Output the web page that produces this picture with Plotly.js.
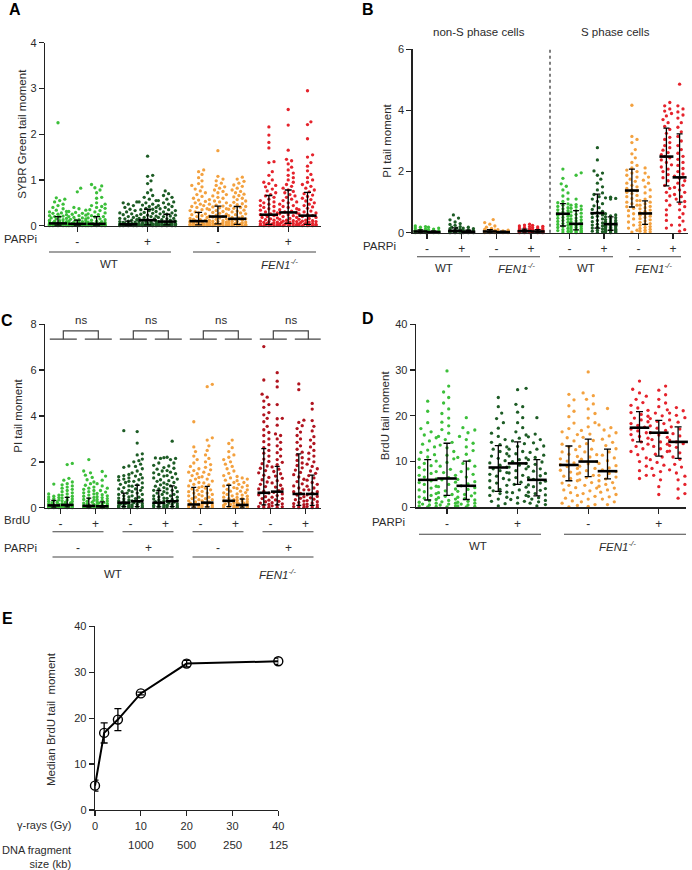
<!DOCTYPE html>
<html><head><meta charset="utf-8">
<script src="https://cdn.plot.ly/plotly-3.0.1.min.js"></script>
<style>html,body{margin:0;padding:0;background:#fff}#chart{width:692px;height:870px}</style>
</head><body><div id="chart"></div>
<script>
// ---------------- Panel A : SYBR Green tail moment ----------------
const A_WT_ctrl_1=[2.25,0.61,0.58,0.55,0.52,0.47,0.44,0.4,0.37,0.34,0.31,0.3,0.28,0.27,0.25,0.24,0.22,0.21,0.2,0.19,0.17,0.16,0.15,0.13,0.12,0.11,0.1,0.09,0.08,0.07,0.06,0.06,0.05,0.05,0.05,0.04,0.04,0.04,0.03,0.03,0.03,0.03,0.02,0.02,0.02,0.02,0.01,0.01,0.01,0.01,0.01,0,0,0,0,0];
const A_WT_ctrl_2=[0.82,0.74,0.4,0.37,0.34,0.31,0.29,0.27,0.25,0.23,0.22,0.2,0.18,0.17,0.15,0.14,0.13,0.12,0.11,0.1,0.09,0.08,0.07,0.06,0.05,0.05,0.04,0.04,0.04,0.03,0.03,0.03,0.03,0.02,0.02,0.02,0.02,0.01,0.01,0.01,0.01,0.01,0,0,0,0,0,0];
const A_WT_ctrl_3=[0.9,0.87,0.83,0.78,0.72,0.62,0.6,0.5,0.47,0.44,0.42,0.4,0.38,0.35,0.33,0.3,0.28,0.26,0.24,0.22,0.2,0.19,0.17,0.15,0.13,0.12,0.1,0.09,0.08,0.07,0.06,0.05,0.05,0.04,0.04,0.04,0.03,0.03,0.03,0.02,0.02,0.02,0.02,0.01,0.01,0.01,0.01,0,0,0,0,0];
const A_WT_parp_1=[0.52,0.5,0.47,0.44,0.4,0.36,0.33,0.3,0.28,0.26,0.24,0.22,0.2,0.18,0.16,0.15,0.13,0.12,0.1,0.09,0.08,0.07,0.06,0.05,0.05,0.04,0.04,0.03,0.03,0.03,0.02,0.02,0.02,0.02,0.01,0.01,0.01,0.01,0,0,0,0,0];
const A_WT_parp_2=[1.52,1.1,1.08,0.98,0.92,0.78,0.72,0.66,0.62,0.58,0.55,0.52,0.5,0.47,0.45,0.42,0.4,0.38,0.36,0.35,0.33,0.31,0.29,0.27,0.25,0.23,0.21,0.2,0.18,0.16,0.15,0.13,0.12,0.11,0.1,0.09,0.08,0.07,0.06,0.05,0.05,0.04,0.04,0.03,0.03,0.03,0.02,0.02,0.02,0.01,0.01,0.01,0,0,0,0];
const A_WT_parp_3=[0.76,0.7,0.66,0.62,0.58,0.55,0.52,0.5,0.47,0.44,0.42,0.4,0.37,0.35,0.33,0.3,0.28,0.26,0.25,0.23,0.21,0.2,0.18,0.16,0.15,0.13,0.12,0.1,0.09,0.08,0.07,0.06,0.05,0.05,0.04,0.04,0.03,0.03,0.03,0.02,0.02,0.02,0.01,0.01,0.01,0,0,0,0];
const A_FEN_ctrl_1=[1.22,1.18,1.12,1.05,0.98,0.92,0.88,0.85,0.8,0.76,0.72,0.68,0.64,0.6,0.56,0.53,0.5,0.47,0.44,0.42,0.4,0.37,0.35,0.33,0.3,0.28,0.26,0.24,0.22,0.2,0.18,0.16,0.14,0.13,0.12,0.11,0.1,0.09,0.08,0.08,0.07,0.06,0.06,0.05,0.05,0.04,0.04,0.03,0.03,0.02,0.02,0.02,0.01,0.01,0.01,0,0,0,0,0];
const A_FEN_ctrl_2=[1.64,1.08,1.02,0.98,0.93,0.88,0.85,0.82,0.78,0.75,0.72,0.68,0.65,0.62,0.6,0.57,0.54,0.52,0.5,0.47,0.45,0.43,0.41,0.39,0.37,0.35,0.33,0.31,0.29,0.27,0.25,0.23,0.21,0.2,0.19,0.17,0.15,0.14,0.12,0.11,0.1,0.09,0.08,0.07,0.06,0.05,0.05,0.04,0.03,0.03,0.02,0.02,0.01,0.01,0,0,0];
const A_FEN_ctrl_3=[1.06,1.02,0.97,0.93,0.89,0.86,0.82,0.78,0.75,0.72,0.69,0.66,0.63,0.6,0.57,0.54,0.51,0.48,0.46,0.44,0.42,0.4,0.38,0.36,0.34,0.32,0.3,0.28,0.26,0.24,0.22,0.2,0.18,0.17,0.15,0.14,0.13,0.12,0.1,0.09,0.08,0.07,0.06,0.05,0.05,0.04,0.03,0.03,0.02,0.02,0.01,0.01,0,0,0];
const A_FEN_parp_1=[2.16,1.98,1.82,1.7,1.4,1.38,1.18,1.1,1.0,0.95,0.92,0.88,0.85,0.8,0.76,0.72,0.68,0.65,0.62,0.58,0.55,0.52,0.5,0.47,0.44,0.42,0.4,0.37,0.34,0.32,0.3,0.28,0.26,0.24,0.22,0.2,0.18,0.17,0.15,0.13,0.12,0.1,0.09,0.08,0.07,0.06,0.05,0.04,0.04,0.03,0.02,0.02,0.01,0.01,0,0,0];
const A_FEN_parp_2=[2.54,2.2,1.65,1.45,1.42,1.35,1.28,1.22,1.15,1.1,1.05,1.0,0.95,0.9,0.86,0.82,0.78,0.75,0.72,0.68,0.65,0.62,0.58,0.55,0.52,0.5,0.47,0.44,0.42,0.4,0.37,0.35,0.32,0.3,0.28,0.26,0.24,0.22,0.2,0.18,0.16,0.14,0.12,0.11,0.1,0.09,0.08,0.07,0.06,0.05,0.04,0.03,0.03,0.02,0.01,0.01,0,0,0];
const A_FEN_parp_3=[2.95,2.27,2.21,1.9,1.55,1.5,1.38,1.3,1.2,1.12,1.05,1.0,0.95,0.9,0.86,0.82,0.78,0.74,0.7,0.67,0.64,0.6,0.57,0.54,0.5,0.47,0.44,0.41,0.38,0.35,0.32,0.3,0.28,0.26,0.24,0.22,0.2,0.18,0.16,0.14,0.12,0.11,0.1,0.09,0.08,0.07,0.06,0.05,0.04,0.03,0.03,0.02,0.01,0.01,0,0,0];
const A_median=[0.05,0.04,0.04,0.03,0.12,0.09,0.1,0.2,0.15,0.24,0.29,0.22];
const A_q1=[0.01,0.01,0.01,0.01,0.02,0.02,0.02,0.04,0.03,0.03,0.05,0.03];
const A_q3=[0.2,0.12,0.2,0.1,0.36,0.25,0.29,0.43,0.42,0.66,0.78,0.73];
const A_ticks=['-','+','-','+'];

// ---------------- Panel B : PI tail moment (non-S / S phase) ----------------
const B_nS_WT_ctrl_1=[0.22,0.2,0.18,0.15,0.12,0.1,0.08,0.07,0.05,0.04,0.03,0.02,0.02,0.01,0.01,0,0,0];
const B_nS_WT_ctrl_2=[0.18,0.15,0.12,0.1,0.07,0.05,0.03,0.02,0.01,0.01,0,0];
const B_nS_WT_parp_1=[0.58,0.48,0.42,0.35,0.3,0.27,0.24,0.2,0.18,0.15,0.13,0.11,0.09,0.07,0.06,0.05,0.04,0.03,0.02,0.02,0.01,0.01,0,0,0];
const B_nS_WT_parp_2=[0.18,0.15,0.13,0.1,0.08,0.06,0.05,0.04,0.03,0.02,0.02,0.01,0.01,0,0,0];
const B_nS_FEN_ctrl_1=[0.43,0.33,0.28,0.22,0.18,0.14,0.11,0.08,0.06,0.05,0.04,0.03,0.02,0.01,0.01,0,0,0];
const B_nS_FEN_ctrl_2=[0.1,0.08,0.06,0.05,0.04,0.03,0.02,0.02,0.01,0.01,0,0];
const B_nS_FEN_parp_1=[0.28,0.25,0.22,0.2,0.17,0.15,0.13,0.11,0.09,0.08,0.07,0.06,0.05,0.04,0.04,0.03,0.02,0.02,0.01,0.01,0,0,0];
const B_nS_FEN_parp_2=[0.24,0.21,0.19,0.17,0.15,0.13,0.11,0.1,0.08,0.07,0.06,0.05,0.04,0.03,0.03,0.02,0.02,0.01,0.01,0,0];
const B_S_WT_ctrl_1=[2.08,1.78,1.6,1.52,1.4,1.3,1.2,1.1,1.02,0.98,0.94,0.9,0.86,0.82,0.78,0.75,0.72,0.68,0.65,0.62,0.6,0.57,0.54,0.5,0.47,0.44,0.4,0.37,0.34,0.3,0.27,0.24,0.2,0.17,0.14,0.1,0.07,0.04,0.02];
const B_S_WT_ctrl_2=[1.96,1.88,1.1,0.92,0.9,0.87,0.84,0.8,0.76,0.72,0.68,0.64,0.6,0.56,0.52,0.48,0.45,0.42,0.39,0.36,0.33,0.3,0.28,0.26,0.24,0.22,0.2,0.18,0.16,0.14,0.12,0.1,0.08,0.07,0.05,0.04,0.03,0.02,0.01,0];
const B_S_WT_parp_1=[2.78,2.38,2.02,1.95,1.88,1.75,1.62,1.5,1.4,1.3,1.25,1.18,1.1,1.02,0.95,0.88,0.82,0.76,0.7,0.66,0.62,0.58,0.54,0.5,0.45,0.4,0.36,0.32,0.28,0.25,0.22,0.18,0.15,0.12,0.08,0.05,0.03,0.01];
const B_S_WT_parp_2=[1.16,1.14,1.12,1.1,0.62,0.58,0.55,0.52,0.49,0.46,0.43,0.4,0.38,0.36,0.34,0.32,0.3,0.28,0.27,0.25,0.24,0.22,0.21,0.2,0.18,0.17,0.15,0.14,0.12,0.11,0.1,0.08,0.07,0.06,0.05,0.04,0.03,0.02,0.01,0];
const B_S_FEN_ctrl_1=[4.17,3.15,3.05,2.95,2.72,2.58,2.45,2.3,2.2,2.12,2.05,2.0,1.95,1.88,1.82,1.75,1.68,1.62,1.55,1.5,1.45,1.4,1.37,1.32,1.28,1.22,1.18,1.12,1.05,1.0,0.95,0.9,0.85,0.8,0.72,0.62,0.55,0.45,0.35,0.25,0.15,0.08,0.02];
const B_S_FEN_ctrl_2=[2.12,1.95,1.82,1.72,1.62,1.5,1.4,1.3,1.18,1.1,1.05,1.0,0.95,0.9,0.86,0.82,0.78,0.74,0.7,0.66,0.63,0.6,0.57,0.54,0.5,0.46,0.42,0.38,0.34,0.3,0.27,0.24,0.2,0.17,0.14,0.11,0.08,0.05,0.03,0.01];
const B_S_FEN_parp_1=[4.26,4.15,4.05,3.98,3.9,3.82,3.7,3.6,3.48,3.38,3.25,3.12,3.05,2.95,2.85,2.78,2.7,2.62,2.55,2.5,2.45,2.38,2.3,2.22,2.15,2.08,2.0,1.9,1.8,1.7,1.55,1.45,1.32,1.2,1.05,0.9,0.75,0.58,0.4,0.25,0.15];
const B_S_FEN_parp_2=[4.86,4.15,4.05,3.95,3.85,3.75,3.6,3.45,3.3,3.15,3.0,2.85,2.72,2.6,2.5,2.4,2.3,2.2,2.1,2.0,1.92,1.85,1.78,1.7,1.62,1.55,1.48,1.4,1.32,1.25,1.18,1.1,1.02,0.95,0.85,0.75,0.62,0.5,0.38,0.25,0.1,0.05];
const B_median=[0.04,0.02,0.06,0.03,0.04,0.02,0.05,0.04,0.62,0.29,0.64,0.28,1.38,0.63,2.49,1.81];
const B_q1=[0.01,0,0.02,0.01,0.01,0,0.02,0.01,0.22,0.09,0.15,0.08,0.84,0.27,1.53,1.0];
const B_q3=[0.09,0.06,0.16,0.08,0.1,0.05,0.12,0.1,0.95,0.72,1.26,0.52,2.08,1.04,3.42,3.23];
const B_ticks=['-','+','-','+','-','+','-','+'];

// ---------------- Panel C : PI tail moment (BrdU / PARPi) ----------------
const C_WT_ctrl_noB_1=[1.03,0.6,0.55,0.5,0.47,0.44,0.4,0.37,0.34,0.31,0.28,0.25,0.22,0.2,0.18,0.16,0.14,0.12,0.1,0.09,0.08,0.07,0.06,0.05,0.04,0.03,0.03,0.02,0.02,0.01,0.01,0,0,0];
const C_WT_ctrl_noB_2=[1.93,1.88,1.28,1.2,1.12,1.05,1.0,0.95,0.9,0.85,0.8,0.75,0.7,0.65,0.6,0.55,0.5,0.46,0.42,0.38,0.34,0.3,0.27,0.24,0.21,0.18,0.15,0.13,0.11,0.09,0.07,0.06,0.05,0.04,0.03,0.02,0.01,0,0];
const C_WT_ctrl_B_1=[2.1,1.6,1.52,1.42,1.32,1.22,1.12,1.05,0.98,0.9,0.85,0.8,0.75,0.7,0.65,0.6,0.55,0.5,0.45,0.4,0.36,0.32,0.28,0.24,0.2,0.17,0.14,0.12,0.1,0.08,0.06,0.05,0.04,0.03,0.02,0.01,0,0];
const C_WT_ctrl_B_2=[1.58,1.38,1.2,1.05,0.95,0.85,0.75,0.68,0.62,0.57,0.52,0.48,0.44,0.4,0.36,0.32,0.29,0.26,0.23,0.2,0.18,0.16,0.14,0.12,0.1,0.08,0.07,0.06,0.05,0.04,0.03,0.02,0.01,0,0];
const C_WT_parp_noB_1=[3.36,1.82,1.76,1.45,1.4,1.35,1.3,1.25,1.2,1.15,1.1,1.02,0.95,0.88,0.82,0.76,0.7,0.64,0.58,0.52,0.47,0.42,0.38,0.34,0.3,0.27,0.24,0.21,0.18,0.16,0.14,0.12,0.1,0.08,0.06,0.05,0.04,0.03,0.02,0.01,0];
const C_WT_parp_noB_2=[3.32,2.82,2.35,2.3,2.12,2.05,2.0,1.9,1.8,1.7,1.6,1.52,1.45,1.38,1.3,1.22,1.15,1.08,1.0,0.94,0.88,0.82,0.76,0.7,0.64,0.58,0.52,0.46,0.4,0.35,0.3,0.26,0.22,0.18,0.15,0.12,0.09,0.06,0.04,0.02,0];
const C_WT_parp_B_1=[2.18,2.17,2.15,1.95,1.85,1.75,1.68,1.6,1.52,1.45,1.38,1.3,1.22,1.15,1.08,1.0,0.94,0.88,0.82,0.76,0.7,0.64,0.58,0.52,0.47,0.42,0.38,0.34,0.3,0.26,0.22,0.19,0.16,0.13,0.1,0.08,0.06,0.04,0.02,0];
const C_WT_parp_B_2=[2.9,2.2,2.15,2.1,1.95,1.82,1.72,1.62,1.55,1.48,1.4,1.32,1.25,1.18,1.1,1.02,0.95,0.88,0.82,0.76,0.7,0.64,0.58,0.52,0.46,0.41,0.36,0.32,0.28,0.24,0.2,0.17,0.14,0.11,0.08,0.06,0.04,0.02,0];
const C_FEN_ctrl_noB_1=[3.75,2.65,2.45,2.25,2.1,1.95,1.8,1.7,1.62,1.55,1.48,1.4,1.32,1.25,1.18,1.1,1.02,0.95,0.88,0.82,0.76,0.7,0.64,0.58,0.52,0.46,0.4,0.35,0.3,0.25,0.2,0.16,0.13,0.1,0.08,0.06,0.04,0.02,0];
const C_FEN_ctrl_noB_2=[5.38,5.28,3.05,2.95,2.7,2.5,2.3,2.15,2.0,1.88,1.76,1.65,1.55,1.45,1.35,1.25,1.16,1.08,1.0,0.92,0.85,0.78,0.71,0.64,0.58,0.52,0.46,0.4,0.35,0.3,0.25,0.21,0.18,0.15,0.12,0.09,0.06,0.04,0.02,0];
const C_FEN_ctrl_B_1=[2.95,2.8,2.62,2.45,2.3,2.2,2.1,2.0,1.9,1.8,1.7,1.6,1.5,1.4,1.3,1.2,1.1,1.02,0.95,0.88,0.8,0.72,0.65,0.58,0.52,0.46,0.4,0.35,0.3,0.25,0.21,0.17,0.14,0.11,0.08,0.05,0.03,0.01,0];
const C_FEN_ctrl_B_2=[1.36,1.3,1.25,1.18,1.1,1.02,0.96,0.9,0.84,0.78,0.72,0.66,0.6,0.55,0.5,0.45,0.41,0.37,0.33,0.29,0.26,0.23,0.2,0.17,0.15,0.13,0.11,0.09,0.07,0.05,0.04,0.03,0.02,0.01,0];
const C_FEN_parp_noB_1=[7.03,5.57,4.95,4.82,4.65,4.5,4.38,4.15,4.05,3.9,3.75,3.55,3.4,3.28,3.15,3.0,2.88,2.75,2.62,2.5,2.38,2.25,2.12,2.02,1.92,1.82,1.72,1.62,1.52,1.42,1.32,1.22,1.12,1.02,0.92,0.82,0.72,0.64,0.56,0.48,0.4,0.33,0.26,0.2,0.14,0.09,0.05,0.02,0];
const C_FEN_parp_noB_2=[5.89,5.52,5.27,4.5,3.9,3.88,3.6,3.22,3.15,3.0,2.85,2.7,2.55,2.4,2.25,2.1,1.98,1.88,1.78,1.68,1.58,1.48,1.38,1.28,1.18,1.08,0.98,0.9,0.82,0.74,0.67,0.6,0.53,0.46,0.4,0.34,0.28,0.22,0.17,0.12,0.08,0.04,0.01];
const C_FEN_parp_B_1=[5.4,5.15,3.82,3.72,3.58,3.45,3.3,3.15,3.0,2.85,2.7,2.55,2.42,2.3,2.18,2.06,1.95,1.84,1.74,1.64,1.54,1.44,1.34,1.24,1.14,1.04,0.95,0.86,0.78,0.7,0.62,0.55,0.48,0.41,0.35,0.29,0.23,0.18,0.13,0.09,0.05,0.02,0];
const C_FEN_parp_B_2=[4.55,4.3,3.8,3.55,3.35,3.1,2.95,2.8,2.65,2.5,2.38,2.25,2.12,2.0,1.9,1.8,1.7,1.6,1.5,1.4,1.3,1.2,1.1,1.02,0.94,0.86,0.78,0.7,0.63,0.56,0.49,0.43,0.37,0.31,0.26,0.21,0.16,0.12,0.08,0.05,0.02,0];
const C_median=[0.1,0.12,0.08,0.06,0.22,0.28,0.22,0.28,0.14,0.22,0.3,0.12,0.65,0.7,0.6,0.6];
const C_q1=[0.02,0.03,0.02,0.01,0.05,0.05,0.04,0.05,0.02,0.03,0.05,0.02,0.12,0.12,0.1,0.1];
const C_q3=[0.32,0.45,0.42,0.25,0.64,0.98,0.75,0.95,0.89,0.93,0.98,0.38,2.58,1.8,2.35,1.42];
const C_brduTicks=['-','+','-','+','-','+','-','+'];
const C_parpLabels=['-','+','-','+'];
const C_sigLabels=['ns','ns','ns','ns'];

// ---------------- Panel D : BrdU tail moment ----------------
const D_WT_ctrl_1=[23.2,21.0,18.5,17.2,16.5,15.8,15.2,14.5,13.8,13.2,12.5,12.0,11.5,11.0,10.5,10.1,9.6,9.1,8.7,8.2,7.8,7.4,7.0,6.6,6.2,5.8,5.4,5.0,4.6,4.2,3.8,3.4,3.0,2.6,2.3,2.0,1.7,1.4,1.1,0.9,0.7,0.5,0.3,0.2,0.1];
const D_WT_ctrl_2=[29.8,26.5,25.2,24.0,22.8,21.5,20.5,19.5,18.6,17.8,17.0,16.2,15.5,14.8,14.2,13.6,13.0,12.2,11.4,10.6,9.8,9.0,8.3,7.6,7.0,6.5,6.0,5.5,5.0,4.5,4.0,3.6,3.2,2.8,2.4,2.1,1.8,1.5,1.2,0.9,0.7,0.5,0.3,0.1];
const D_WT_ctrl_3=[19.6,17.4,16.9,16.3,15.5,14.8,14.0,13.2,12.4,11.6,10.9,10.2,9.6,9.0,8.4,7.8,7.2,6.6,6.1,5.6,5.1,4.7,4.3,3.9,3.5,3.1,2.8,2.5,2.2,1.9,1.6,1.3,1.1,0.9,0.7,0.5,0.3,0.2,0.1];
const D_WT_parp_1=[24.0,22.0,20.6,19.4,18.5,17.3,16.2,15.5,14.8,14.2,13.7,13.2,12.7,12.2,11.7,11.2,10.7,10.2,9.7,9.2,8.8,8.4,8.0,7.6,7.2,6.8,6.3,5.8,5.3,4.8,4.3,3.9,3.6,3.3,3.0,2.6,2.2,1.8,1.3,0.8,0.3];
const D_WT_parp_2=[26.0,25.7,22.5,22.0,20.8,19.6,18.5,17.4,16.5,15.8,15.1,14.5,13.9,13.3,12.7,12.2,11.7,11.2,10.8,10.4,10.0,9.6,9.2,8.8,8.4,8.0,7.5,7.0,6.5,6.0,5.5,5.0,4.4,3.8,3.2,2.6,2.1,1.7,1.3,0.9];
const D_WT_parp_3=[19.6,16.0,15.4,14.8,14.1,13.4,12.7,12.0,11.4,10.9,10.4,9.9,9.4,8.9,8.4,7.9,7.4,6.9,6.5,6.1,5.7,5.3,4.9,4.5,4.1,3.7,3.3,3.0,2.7,2.4,2.1,1.8,1.5,1.2,0.9,0.6,0.3];
const D_FEN_ctrl_1=[24.7,23.5,22.2,21.0,19.8,18.4,17.2,16.5,15.9,15.2,14.5,13.8,13.2,12.6,12.1,11.6,11.1,10.6,10.1,9.7,9.3,8.9,8.5,8.1,7.7,7.3,6.8,6.3,5.8,5.3,4.8,4.3,3.8,3.2,2.6,2.0,1.4,0.9,0.4,0.1];
const D_FEN_ctrl_2=[29.6,25.0,24.4,23.6,22.6,21.5,20.5,19.5,18.5,17.6,16.8,16.0,15.3,14.6,13.9,13.3,12.7,12.1,11.5,11.0,10.5,10.0,9.5,9.0,8.5,8.0,7.5,7.0,6.5,6.0,5.4,4.8,4.2,3.6,3.0,2.4,1.8,1.2,0.6,0.2];
const D_FEN_ctrl_3=[21.6,18.0,17.4,16.9,16.3,15.6,14.9,14.2,13.5,12.8,12.1,11.4,10.8,10.2,9.6,9.1,8.6,8.2,7.8,7.4,7.0,6.6,6.2,5.8,5.4,5.0,4.6,4.2,3.8,3.3,2.8,2.3,1.8,1.2,0.6];
const D_FEN_parp_1=[27.6,25.8,25.0,24.3,23.6,22.9,22.3,21.7,21.2,20.7,20.3,19.9,19.5,19.1,18.7,18.3,17.9,17.5,17.1,16.7,16.3,15.9,15.5,15.1,14.7,14.3,13.8,13.3,12.8,12.2,11.5,10.8,10.0,9.0,8.0,7.0,6.3];
const D_FEN_parp_2=[26.5,25.6,24.6,23.6,22.8,22.0,21.3,20.6,20.0,19.4,18.8,18.3,17.8,17.3,16.8,16.3,15.8,15.3,14.8,14.3,13.8,13.3,12.8,12.2,11.6,11.0,10.4,9.8,9.2,8.5,7.8,7.0,6.0,4.5,2.8];
const D_FEN_parp_3=[21.8,21.1,20.6,20.1,19.6,19.1,18.6,18.1,17.6,17.1,16.6,16.1,15.6,15.1,14.7,14.3,13.9,13.5,13.1,12.7,12.3,11.9,11.5,11.0,10.5,10.0,9.4,8.8,8.2,7.5,6.8,6.0,5.0,4.0,3.0,2.0];
const D_median=[6.0,6.3,4.7,8.7,9.6,6.0,9.25,10.0,7.9,17.4,16.3,14.3];
const D_q1=[1.6,2.6,1.7,3.5,5.0,2.5,5.8,6.7,6.2,14.3,11.2,10.7];
const D_q3=[10.4,14.0,10.1,13.5,14.3,10.4,13.4,14.9,12.7,20.9,19.0,17.6];
const D_ticks=['-','+','-','+'];

// ---------------- Panel E : median BrdU tail moment vs γ-ray dose ----------------
const E_dose=[0,2,5,10,20,40];
const E_median=[5.3,16.8,19.7,25.4,31.9,32.4];
const E_err=[1.2,2.2,2.4,0.3,0.7,0.7];
const E_fragDose=[10,20,30,40];
const E_fragKb=['1000','500','250','125'];

// ======================= drawing =======================
const W=692,H=870;
const X=p=>p/W, Y=p=>1-p/H;
const FONT='"Liberation Sans", Arial, Helvetica, sans-serif';
const TXT='#2b2b2b';
const COL={lg:'#3cbf3a',dg:'#1d5c25',or:'#f3a13f',rd:'#e5232c',dr:'#b0141f'};

// deterministic beeswarm layout (horizontal offsets only)
function swarm(vals,cx,pxPerY,d,maxHalf){
  const order=vals.map((v,i)=>i).sort((a,b)=>vals[a]-vals[b]);
  const placed=[],xs=new Array(vals.length);
  const step=Math.min(d/2,1.7),n=Math.floor(maxHalf/step);
  for(const i of order){
    const y=vals[i]*pxPerY;
    const near=placed.filter(p=>Math.abs(p.y-y)<d);
    let best=0,bestOv=Infinity;
    for(let k=0;k<=2*n;k++){
      const off=k===0?0:(k%2?1:-1)*Math.ceil(k/2)*step;
      let ov=0;
      for(const p of near){const dist=Math.hypot(p.x-off,p.y-y);if(dist<d)ov+=d-dist;}
      if(ov===0){best=off;break;}
      if(ov<bestOv-1e-9){bestOv=ov;best=off;}
    }
    placed.push({x:best,y});xs[i]=cx+best;
  }
  return xs;
}
const traces=[];
function addGroups(groups,pos,xa,ya,pxPerY,d,maxHalf){
  groups.forEach((g,i)=>{
    traces.push({type:'scatter',mode:'markers',x:swarm(g[0],pos[i],pxPerY,d,maxHalf),y:g[0],
      xaxis:xa,yaxis:ya,marker:{color:g[1],size:3.3,line:{width:0}},cliponaxis:false,hoverinfo:'skip',showlegend:false});
  });
}
function addSummary(pos,med,q1,q3,xa,ya,mlen,cap){
  traces.push({type:'scatter',mode:'markers',x:pos,y:med,xaxis:xa,yaxis:ya,
    marker:{symbol:'line-ew',size:mlen,color:'#000',line:{color:'#000',width:2.6}},
    error_y:{type:'data',symmetric:false,array:q3.map((v,i)=>v-med[i]),arrayminus:q1.map((v,i)=>med[i]-v),color:'#000',thickness:1.3,width:cap},
    cliponaxis:false,hoverinfo:'skip',showlegend:false});
}

// category positions (px from each x-axis start)
const A_pos=[],D_pos=[],A_ctr=[],D_ctr=[];
for(let t=0;t<4;t++){A_ctr.push(32.3+t*70.3);D_ctr.push(31+t*70.6);for(let r=0;r<3;r++){A_pos.push(32.3+t*70.3+(r-1)*19.3);D_pos.push(31+t*70.6+(r-1)*19.3);}}
const B_ctr=[],B_pos=[];
for(let p=0;p<8;p++){const c=p<4?14.3+34.7*p:156.8+34.5*(p-4);B_ctr.push(c);B_pos.push(c-6.6,c+6.6);}
const C_ctr=[],C_pos=[];
for(let p=0;p<8;p++){const c=15.5+35*p;C_ctr.push(c);C_pos.push(c-6.7,c+6.7);}

addGroups([[A_WT_ctrl_1,COL.lg],[A_WT_ctrl_2,COL.lg],[A_WT_ctrl_3,COL.lg],[A_WT_parp_1,COL.dg],[A_WT_parp_2,COL.dg],[A_WT_parp_3,COL.dg],
  [A_FEN_ctrl_1,COL.or],[A_FEN_ctrl_2,COL.or],[A_FEN_ctrl_3,COL.or],[A_FEN_parp_1,COL.rd],[A_FEN_parp_2,COL.rd],[A_FEN_parp_3,COL.rd]],A_pos,'x','y',45.75,4.2,9);
addSummary(A_pos,A_median,A_q1,A_q3,'x','y',13,3.5);

addGroups([[B_nS_WT_ctrl_1,COL.lg],[B_nS_WT_ctrl_2,COL.lg],[B_nS_WT_parp_1,COL.dg],[B_nS_WT_parp_2,COL.dg],[B_nS_FEN_ctrl_1,COL.or],[B_nS_FEN_ctrl_2,COL.or],[B_nS_FEN_parp_1,COL.rd],[B_nS_FEN_parp_2,COL.rd],
  [B_S_WT_ctrl_1,COL.lg],[B_S_WT_ctrl_2,COL.lg],[B_S_WT_parp_1,COL.dg],[B_S_WT_parp_2,COL.dg],[B_S_FEN_ctrl_1,COL.or],[B_S_FEN_ctrl_2,COL.or],[B_S_FEN_parp_1,COL.rd],[B_S_FEN_parp_2,COL.rd]],B_pos,'x2','y2',30.57,5,5.5);
addSummary(B_pos,B_median,B_q1,B_q3,'x2','y2',10,3);

addGroups([[C_WT_ctrl_noB_1,COL.lg],[C_WT_ctrl_noB_2,COL.lg],[C_WT_ctrl_B_1,COL.lg],[C_WT_ctrl_B_2,COL.lg],[C_WT_parp_noB_1,COL.dg],[C_WT_parp_noB_2,COL.dg],[C_WT_parp_B_1,COL.dg],[C_WT_parp_B_2,COL.dg],
  [C_FEN_ctrl_noB_1,COL.or],[C_FEN_ctrl_noB_2,COL.or],[C_FEN_ctrl_B_1,COL.or],[C_FEN_ctrl_B_2,COL.or],[C_FEN_parp_noB_1,COL.dr],[C_FEN_parp_noB_2,COL.dr],[C_FEN_parp_B_1,COL.dr],[C_FEN_parp_B_2,COL.dr]],C_pos,'x3','y3',22.93,4.6,5.6);
addSummary(C_pos,C_median,C_q1,C_q3,'x3','y3',9,2.5);

addGroups([[D_WT_ctrl_1,COL.lg],[D_WT_ctrl_2,COL.lg],[D_WT_ctrl_3,COL.lg],[D_WT_parp_1,COL.dg],[D_WT_parp_2,COL.dg],[D_WT_parp_3,COL.dg],
  [D_FEN_ctrl_1,COL.or],[D_FEN_ctrl_2,COL.or],[D_FEN_ctrl_3,COL.or],[D_FEN_parp_1,COL.rd],[D_FEN_parp_2,COL.rd],[D_FEN_parp_3,COL.rd]],D_pos,'x4','y4',4.575,7,8.5);
addSummary(D_pos,D_median,D_q1,D_q3,'x4','y4',14,3.5);

traces.push({type:'scatter',mode:'lines+markers',x:E_dose,y:E_median,xaxis:'x5',yaxis:'y5',
  line:{color:'#000',width:2},marker:{symbol:'circle-open',size:9,color:'#000',line:{width:1.4,color:'#000'}},
  error_y:{type:'data',array:E_err,color:'#000',thickness:1.3,width:3.5},cliponaxis:false,hoverinfo:'skip',showlegend:false});

const axBase={showline:true,linecolor:'#222',linewidth:1.3,ticks:'outside',ticklen:5,tickwidth:1.3,tickcolor:'#222',
  showgrid:false,zeroline:false,automargin:false,fixedrange:true,tickfont:{family:FONT,size:11,color:TXT}};
const xCat=(dom,len,vals,text,anchor)=>Object.assign({},axBase,{domain:dom,range:[0,len],anchor:anchor,tickmode:'array',tickvals:vals,ticktext:text,tickfont:{family:FONT,size:12,color:TXT}});
const yAx=(dom,rng,dt,title,stand,anchor)=>Object.assign({},axBase,{domain:dom,range:rng,dtick:dt,tick0:0,anchor:anchor,
  title:{text:title,font:{family:FONT,size:11.5,color:TXT},standoff:stand}});

const annotations=[],shapes=[];
const ann=(text,x,y,o)=>annotations.push(Object.assign({text:text,x:X(x),y:Y(y),xref:'paper',yref:'paper',showarrow:false,
  xanchor:'center',yanchor:'middle',font:{family:FONT,size:11.5,color:TXT}},o||{}));
const hline=(x0,x1,y,o)=>shapes.push(Object.assign({type:'line',xref:'paper',yref:'paper',x0:X(x0),x1:X(x1),y0:Y(y),y1:Y(y),line:{color:'#444',width:1.1}},o||{}));
const FEN='<i>FEN1<sup>-/-</sup></i>';
const letter={family:'"Liberation Sans", Arial, sans-serif',size:16,color:'#000'};

// Panel A labels
ann('<b>A</b>',15,10,{font:letter});
ann('PARPi',2,239,{xanchor:'left'});
hline(49,171,252); hline(193,316,252);
ann('WT',109,264); ann(FEN,279,264);
// Panel B labels
ann('<b>B</b>',368,9,{font:letter});
ann('non-S phase cells',478.7,32); ann('S phase cells',615,32);
ann('PARPi',379,246);
hline(417,470,256.7); hline(489,540,256.7); hline(559,613,256.7); hline(629,681,256.7);
ann('WT',443.5,268); ann(FEN,516,268); ann('WT',586,268); ann(FEN,653,268);
shapes.push({type:'line',xref:'paper',yref:'paper',x0:X(550),x1:X(550),y0:Y(232.7),y1:Y(49.3),line:{color:'#555',width:1.5,dash:'dot'}});
// Panel C labels
ann('<b>C</b>',7,320,{font:letter});
ann('BrdU',2,520,{xanchor:'left'});
ann('PARPi',2,548,{xanchor:'left'});
for(let k=0;k<4;k++){
  const c1=C_ctr[2*k],c2=C_ctr[2*k+1];
  annotations.push({text:C_parpLabels[k],x:(c1+c2)/2,xref:'x3',y:Y(548),yref:'paper',showarrow:false,font:{family:FONT,size:12,color:TXT}});
  shapes.push({type:'line',xref:'x3',yref:'paper',x0:c1-8,x1:c2+8,y0:Y(531.7),y1:Y(531.7),line:{color:'#444',width:1.1}});
  const L1=c1+2.8,L2=c2+2.8;
  shapes.push({type:'line',xref:'x3',yref:'y3',x0:L1-13.5,x1:L1+13.5,y0:7.35,y1:7.35,line:{color:'#444',width:1.2}});
  shapes.push({type:'line',xref:'x3',yref:'y3',x0:L2-13.5,x1:L2+13.5,y0:7.35,y1:7.35,line:{color:'#444',width:1.2}});
  shapes.push({type:'path',xref:'x3',yref:'y3',path:`M${L1},7.35 L${L1},7.71 L${L2},7.71 L${L2},7.35`,line:{color:'#444',width:1.2}});
  annotations.push({text:C_sigLabels[k],x:(L1+L2)/2,xref:'x3',y:Y(319.5),yref:'paper',showarrow:false,font:{family:FONT,size:11.5,color:TXT}});
}
shapes.push({type:'line',xref:'x3',yref:'paper',x0:C_ctr[0]-8,x1:C_ctr[3]+8,y0:Y(557),y1:Y(557),line:{color:'#444',width:1.1}});
shapes.push({type:'line',xref:'x3',yref:'paper',x0:C_ctr[4]-8,x1:C_ctr[7]+8,y0:Y(557),y1:Y(557),line:{color:'#444',width:1.1}});
ann('WT',113,574); ann(FEN,277,574);
// Panel D labels
ann('<b>D</b>',368,318,{font:letter});
ann('PARPi',388,522);
hline(419,541,534.3); hline(564,686,534.3);
ann('WT',478,546); ann(FEN,617,546);
// Panel E labels
ann('<b>E</b>',7,618,{font:letter});
ann('Median BrdU tail  moment',51,719,{textangle:-90});
ann('γ-rays (Gy)',73,825,{xanchor:'right',font:{family:FONT,size:11,color:TXT}});
ann('DNA fragment<br>size (kb)',73,857,{xanchor:'right',align:'right',font:{family:FONT,size:11,color:TXT}});
E_fragDose.forEach((d,i)=>annotations.push({text:E_fragKb[i],x:d,xref:'x5',y:Y(853),yref:'paper',showarrow:false,font:{family:FONT,size:11.5,color:TXT}}));

const layout={width:W,height:H,margin:{l:0,r:0,t:0,b:0},paper_bgcolor:'#fff',plot_bgcolor:'rgba(0,0,0,0)',showlegend:false,
  font:{family:FONT,color:TXT},
  xaxis:xCat([X(45),X(320.7)],275.7,A_ctr,A_ticks,'y'),
  yaxis:yAx([Y(225.7),Y(42.7)],[0,4],1,'SYBR Green tail moment',1,'x'),
  xaxis2:xCat([X(412.7),X(687.7)],275,B_ctr,B_ticks,'y2'),
  yaxis2:yAx([Y(232.7),Y(49.3)],[0,6],2,'PI tail moment',4,'x2'),
  xaxis3:xCat([X(45),X(320.7)],275.7,C_ctr,C_brduTicks,'y3'),
  yaxis3:yAx([Y(507.7),Y(324.3)],[0,8],2,'PI tail moment',5,'x3'),
  xaxis4:xCat([X(416),X(686)],270,D_ctr,D_ticks,'y4'),
  yaxis4:yAx([Y(507.3),Y(324.3)],[0,40],10,'BrdU tail moment',3,'x4'),
  xaxis5:Object.assign({},axBase,{domain:[X(95),X(278.3)],range:[0,40],dtick:10,tick0:0,anchor:'y5'}),
  yaxis5:Object.assign({},axBase,{domain:[Y(810),Y(626.4)],range:[0,40],dtick:10,tick0:0,anchor:'x5'}),
  annotations:annotations,shapes:shapes};
Plotly.newPlot('chart',traces,layout,{staticPlot:true,displayModeBar:false});
</script></body></html>
